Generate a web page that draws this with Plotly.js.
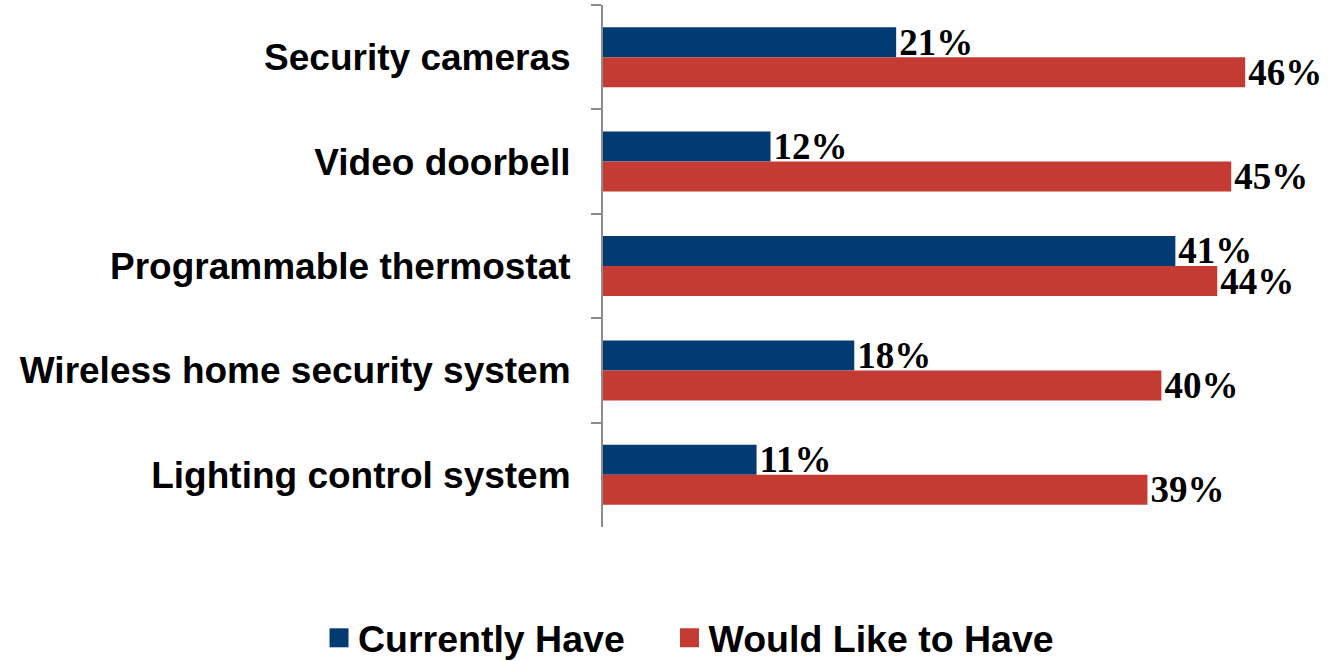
<!DOCTYPE html>
<html>
<head>
<meta charset="utf-8">
<script src="https://cdn.plot.ly/plotly-3.0.1.min.js"></script>
<style>
  html, body { margin: 0; padding: 0; background: #fff; }
  #chart { width: 1334px; height: 661px; }
</style>
</head>
<body>
<div id="chart"></div>
<script>
const categories = [
  "Security cameras",
  "Video doorbell",
  "Programmable thermostat",
  "Wireless home security system",
  "Lighting control system"
];
const currentlyHave = [21, 12, 41, 18, 11];
const wouldLikeToHave = [46, 45, 44, 40, 39];
const seriesNames = ["Currently Have", "Would Like to Have"];

const labelFont = { family: "Liberation Serif, Times New Roman, serif", size: 37, color: "#000", weight: "bold" };
const legendFont = { family: "Liberation Sans, Arial, sans-serif", size: 37.5, color: "#000", weight: "bold" };

function pct(arr) { return arr.map(v => v + "%"); }

const traces = [
  {
    type: "bar", orientation: "h", name: seriesNames[0], legend: "legend",
    y: categories, x: currentlyHave,
    marker: { color: "#023B71" },
    text: pct(currentlyHave), textposition: "outside", cliponaxis: false,
    constraintext: "none", textfont: labelFont, hoverinfo: "none"
  },
  {
    type: "bar", orientation: "h", name: seriesNames[1], legend: "legend2",
    y: categories, x: wouldLikeToHave,
    marker: { color: "#C43B34" },
    text: pct(wouldLikeToHave), textposition: "outside", cliponaxis: false,
    constraintext: "none", textfont: labelFont, hoverinfo: "none"
  }
];

const layout = {
  width: 1334, height: 661,
  margin: { l: 603, r: 33, t: 5, b: 134, autoexpand: false },
  paper_bgcolor: "#fff", plot_bgcolor: "#fff",
  barmode: "group", bargap: 0.425, bargroupgap: 0,
  showlegend: true,
  legend: {
    orientation: "h", xref: "paper", yref: "paper",
    x: -0.4083, xanchor: "left", y: -0.2125, yanchor: "middle",
    font: legendFont, bgcolor: "rgba(0,0,0,0)"
  },
  legend2: {
    orientation: "h", xref: "paper", yref: "paper",
    x: 0.0938, xanchor: "left", y: -0.2125, yanchor: "middle",
    font: legendFont, bgcolor: "rgba(0,0,0,0)"
  },
  xaxis: {
    range: [0, 50], showgrid: false, zeroline: false, showticklabels: false,
    ticks: "", showline: false, fixedrange: true
  },
  yaxis: {
    type: "category", range: [4.5, -0.5], autorange: false,
    showline: true, linecolor: "#8c8c8c", linewidth: 2,
    ticks: "outside", tickson: "boundaries", ticklen: 10, tickcolor: "#8c8c8c", tickwidth: 2,
    ticklabelstandoff: 23,
    tickfont: { family: "Liberation Sans, Arial, sans-serif", size: 37, color: "#000", weight: "bold" },
    showgrid: false, fixedrange: true
  }
};

Plotly.newPlot("chart", traces, layout, { displayModeBar: false, staticPlot: true }).then(gd => {
  gd.querySelectorAll(".legendpoints path").forEach(p => {
    p.removeAttribute("transform");
    p.setAttribute("d", "M30.5,9.5H11.5V-9.5H30.5Z");
  });
});
</script>
</body>
</html>
